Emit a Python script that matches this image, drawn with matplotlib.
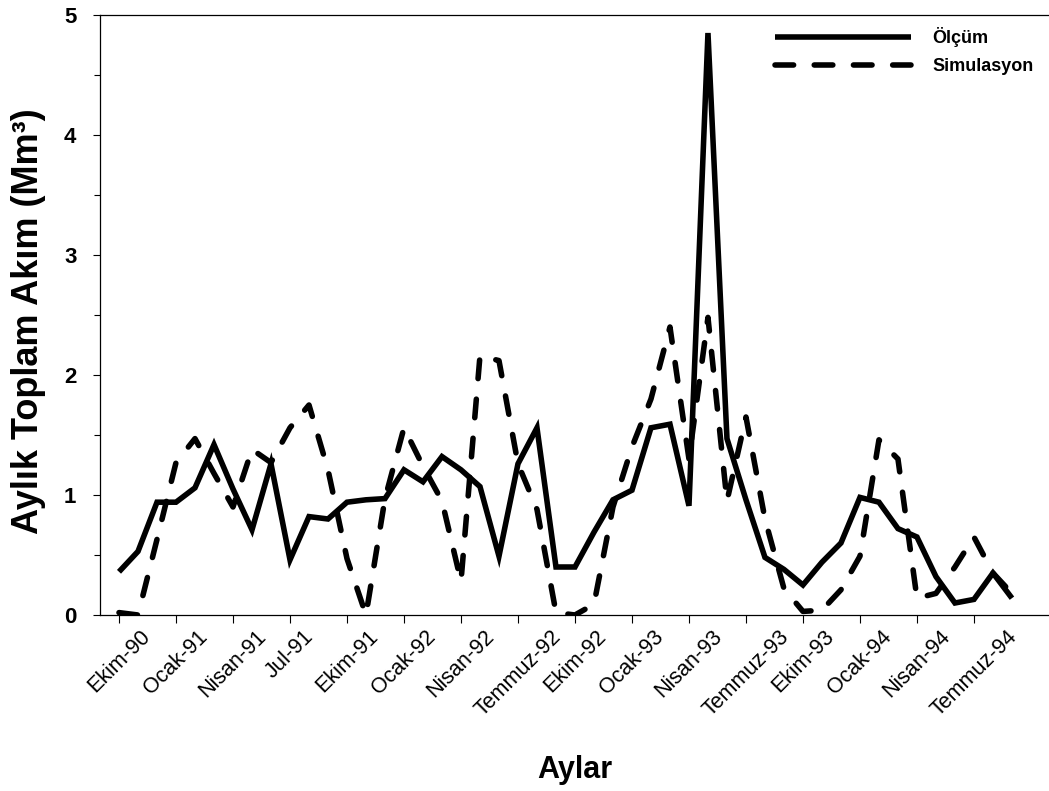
import matplotlib
matplotlib.use("Agg")
import matplotlib.pyplot as plt
import matplotlib.transforms as mtransforms
from matplotlib.ticker import MultipleLocator, FixedLocator

plt.rcParams['font.family'] = ['Liberation Sans', 'DejaVu Sans']

# Monthly total flow (Mm³), Ekim-90 ... Eylül-94
olcum = [0.36, 0.53, 0.94, 0.94, 1.06, 1.42, 1.05, 0.71, 1.26, 0.46,
         0.82, 0.80, 0.94, 0.96, 0.97, 1.21, 1.11, 1.32, 1.21, 1.07,
         0.49, 1.26, 1.56, 0.40, 0.40, 0.69, 0.96, 1.04, 1.56, 1.59,
         0.91, 4.85, 1.47, 0.96, 0.48, 0.38, 0.25, 0.44, 0.60, 0.98,
         0.94, 0.72, 0.65, 0.32, 0.10, 0.13, 0.35, 0.14]

simulasyon = [0.02, 0.00, 0.63, 1.27, 1.47, 1.18, 0.90, 1.38, 1.27, 1.56,
              1.75, 1.21, 0.47, 0.00, 0.97, 1.56, 1.24, 0.95, 0.28, 2.16,
              2.12, 1.26, 0.88, 0.02, 0.00, 0.09, 0.90, 1.40, 1.80, 2.40,
              1.30, 2.48, 0.95, 1.65, 0.80, 0.22, 0.03, 0.04, 0.21, 0.49,
              1.46, 1.30, 0.14, 0.18, 0.40, 0.65, 0.35, 0.18]

tick_labels = ["Ekim-90", "Ocak-91", "Nisan-91", "Jul-91", "Ekim-91", "Ocak-92",
               "Nisan-92", "Temmuz-92", "Ekim-92", "Ocak-93", "Nisan-93",
               "Temmuz-93", "Ekim-93", "Ocak-94", "Nisan-94", "Temmuz-94"]

months = list(range(len(olcum)))
tick_pos = [3 * k for k in range(len(tick_labels))]

fig = plt.figure(figsize=(10.49, 7.91), dpi=100)
ax = fig.add_axes([100 / 1049, 1 - 615 / 791, 949 / 1049, 600 / 791])

lw = 4.0
ax.plot(months, olcum, color='black', lw=lw, solid_joinstyle='miter',
        solid_capstyle='butt', label='Ölçüm')
ax.plot(months, simulasyon, color='black', lw=lw, dashes=(3.35, 3.71),
        dash_capstyle='round', dash_joinstyle='round', label='Simulasyon')

ax.set_xlim(-1, 48.95)
ax.set_ylim(0, 5)

ax.xaxis.set_major_locator(FixedLocator(tick_pos))
ax.set_xticklabels(tick_labels, rotation=45, ha='center', fontsize=15.5)
shift = mtransforms.ScaledTranslation(6 / 100, -3 / 100, fig.dpi_scale_trans)
for t in ax.get_xticklabels():
    t.set_transform(t.get_transform() + shift)

ax.yaxis.set_major_locator(MultipleLocator(1))
ax.yaxis.set_minor_locator(MultipleLocator(0.5))
ax.tick_params(axis='y', which='major', direction='out', length=5, width=0.8,
               labelsize=16, pad=12)
ax.tick_params(axis='y', which='minor', direction='out', length=4, width=0.8)
ax.tick_params(axis='x', which='major', direction='out', length=6, width=0.8, pad=2)
for t in ax.get_yticklabels():
    t.set_fontweight('bold')

for side in ('left', 'bottom', 'top'):
    ax.spines[side].set_linewidth(0.9)
ax.spines['right'].set_visible(False)

ax.set_ylabel('Aylık Toplam Akım (Mm³)', fontsize=26, fontweight='bold')
ax.yaxis.label.set_verticalalignment('center')
ax.yaxis.set_label_coords(-0.075, 0.49)
ax.set_xlabel('Aylar', fontsize=22, fontweight='bold')
ax.xaxis.label.set_verticalalignment('center')
ax.xaxis.set_label_coords(0.5, -0.258)

leg = ax.legend(loc='upper left', bbox_to_anchor=(775 / 1049, 1 - 27 / 791),
                bbox_transform=fig.transFigure, frameon=False,
                prop={'weight': 'bold', 'size': 13}, handlelength=7.55,
                handletextpad=1.16, labelspacing=0.6, borderpad=0,
                borderaxespad=0)

fig.savefig('out.png', dpi=100)
